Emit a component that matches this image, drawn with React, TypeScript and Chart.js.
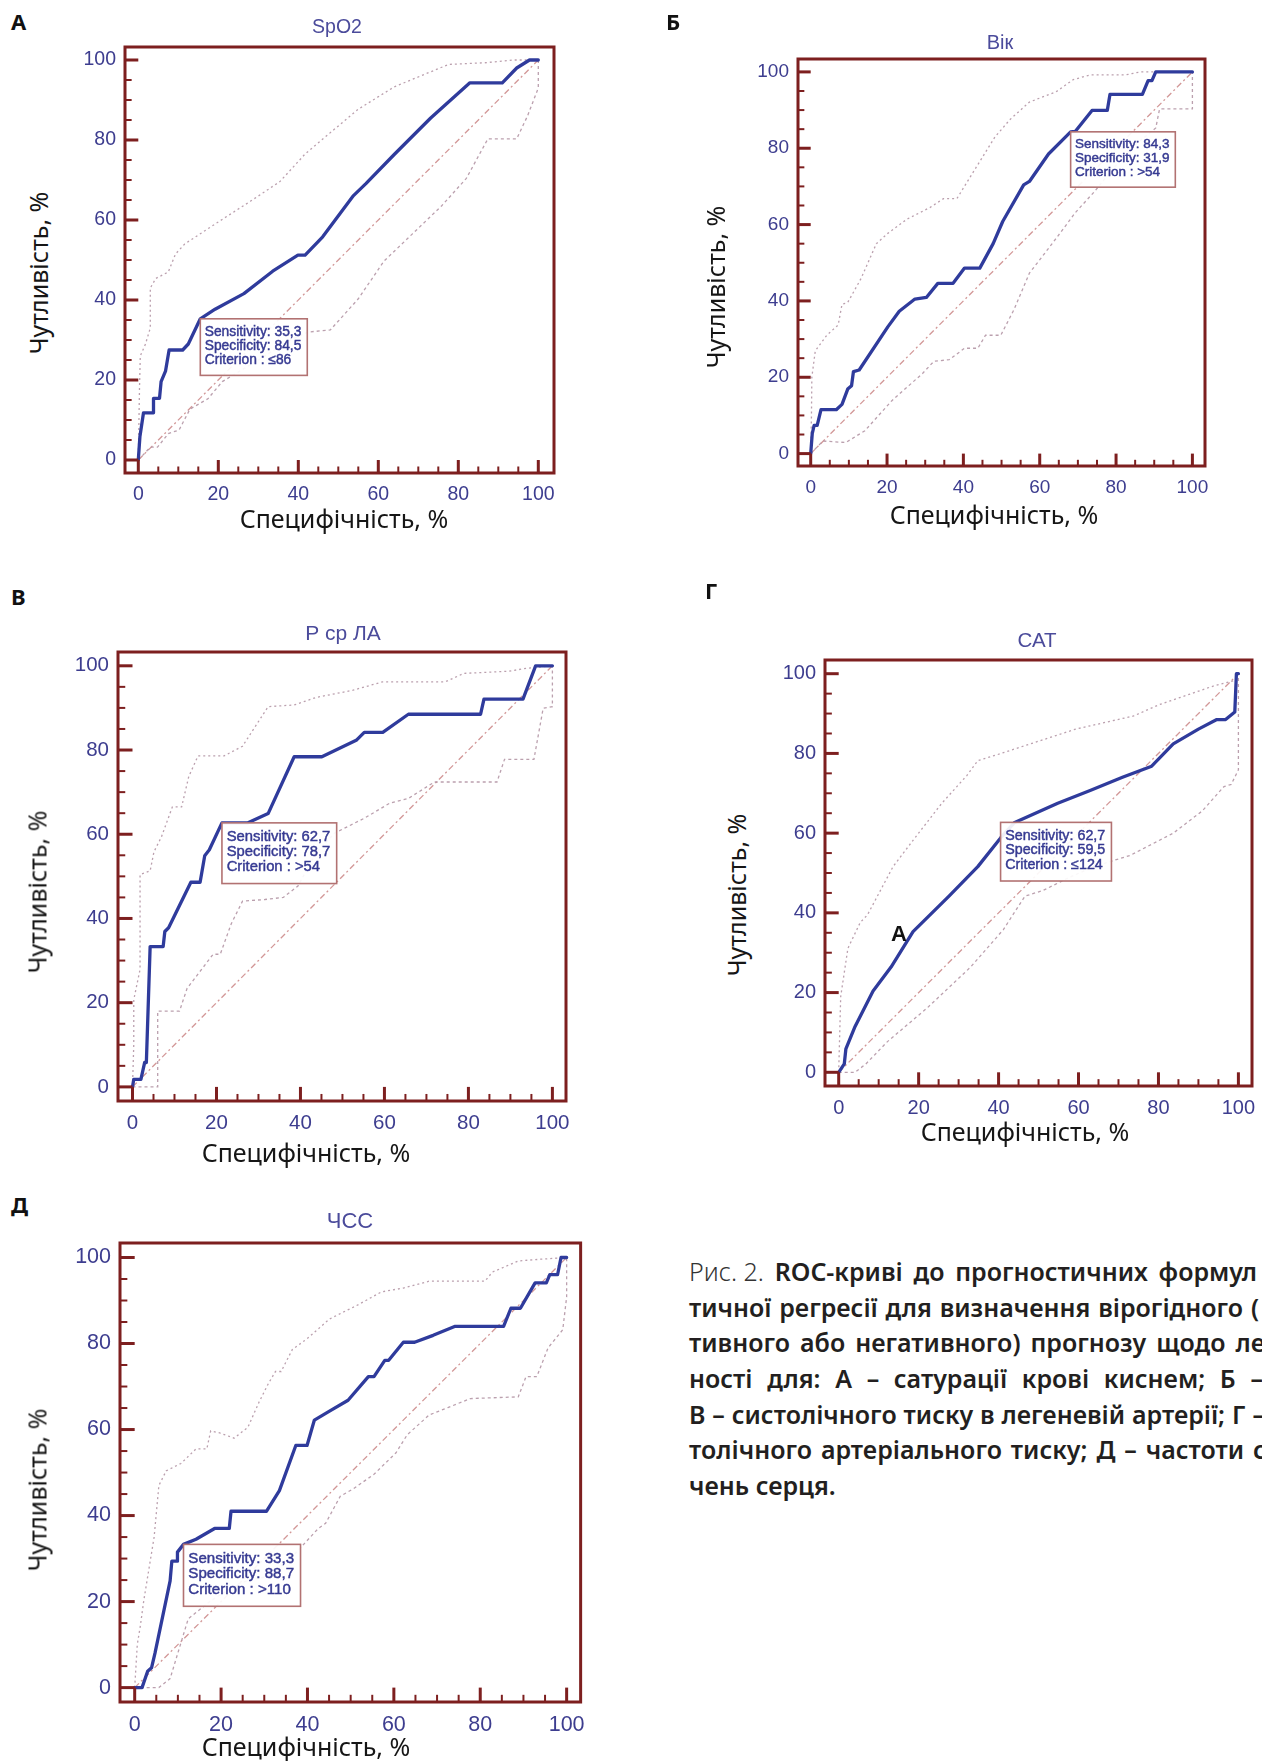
import React, { useEffect, useRef } from "react";
import { Chart, registerables } from "chart.js";

Chart.register(...registerables);

type Pt = [number, number];

// ---------- shared ----------
const tickValues = [0, 20, 40, 60, 80, 100];
const diagonal: Pt[] = [[0, 0], [100, 100]];
const xAxisTitle = "Специфічність, %";
const yAxisTitle = "Чутливість, %";

// ---------- А: SpO2 ----------
const spo2Roc: Pt[] = [[0,0],[0.4,5.8],[1.3,11.8],[3.8,11.8],[3.8,15.4],[5.3,15.4],[5.7,19.6],[6.8,22.2],[7.7,27.5],[11.1,27.5],[12.5,29],[15.5,35.3],[19.2,37.7],[26.4,41.6],[33.6,47.2],[39.9,51.2],[41.7,51.2],[46.1,55.8],[53.8,66.1],[56.9,69.1],[64.1,76.5],[73.1,85.5],[82.9,94.3],[91,94.3],[94.6,98],[97.8,100],[100,100]];
const spo2Upper: Pt[] = [[0,0],[0.3,18],[0.5,26],[1.8,29],[3,33],[3,43],[4.4,45.4],[7.5,47],[9.3,51.5],[11.6,54],[19.2,59],[28.2,64.8],[35.4,69.6],[41.7,76.5],[48.8,82.5],[55,87.7],[64,93.3],[77.6,98.9],[86.5,99.3],[93.7,100],[100,100]];
const spo2Lower: Pt[] = [[0,0],[3,3.2],[4.8,3.2],[7.5,6.6],[10.2,7.5],[12.9,12.7],[17.4,15.3],[21,19.6],[30,25],[38,30],[42.5,32],[48,32.5],[55,40.3],[61.4,49.7],[68.6,56.6],[75.8,63.5],[82,70.4],[87.4,80.3],[94.6,80.3],[97.3,86],[100,93],[100,100]];
const spo2Criterion = { sensitivity: 35.3, specificity: 84.5, criterion: "≤86" };

// ---------- Б: Вік ----------
const ageRoc: Pt[] = [[0,0],[0.4,5.2],[0.9,7.4],[1.7,7.4],[2.7,11.5],[6.7,11.5],[8.2,12.9],[9.7,16.9],[10.7,17.8],[11.2,21.5],[12.7,21.9],[20.2,33.2],[23.2,37.3],[27.3,40.5],[30.3,40.9],[33.3,44.6],[37.3,44.6],[40.3,48.6],[44.3,48.6],[47.8,55],[50.3,60.8],[55.8,70.4],[57.3,71.3],[62.3,78.5],[68.1,84.3],[69.3,84.4],[73.7,89.9],[77.7,89.9],[78.4,94.1],[86.9,94.1],[88.4,97.7],[89.4,97.7],[90.4,100],[100,100]];
const ageUpper: Pt[] = [[0,0],[0.2,10],[0.3,20],[1.2,26.9],[4.2,31],[7.2,33.7],[8.2,39.1],[9.7,39.6],[13.2,45.9],[17.2,55],[20.2,57.7],[25.2,61.4],[31.3,64.5],[34.8,66.8],[38.3,66.8],[43.3,74.9],[48.3,83],[52.3,87.6],[57.3,92.1],[64.3,94.8],[68.8,98],[73.3,99.2],[82.4,99.2],[86.3,100],[100,100]];
const ageLower: Pt[] = [[0,0],[3.2,3.3],[9.2,2.9],[14.2,6],[21.2,13.8],[29.3,21],[32.3,24.2],[36.3,24.6],[40.3,27.6],[43.8,27.6],[45.8,31],[49.8,31],[53.3,37.8],[57.3,47.3],[59.8,50.5],[65.3,57.7],[69.3,63.1],[74.3,68.6],[79.4,74.9],[84.4,80.4],[90.4,85.3],[91.4,90.3],[100,90.3],[100,100]];
const ageCriterion = { sensitivity: 84.3, specificity: 31.9, criterion: ">54" };

// ---------- В: Р ср ЛА ----------
const paRoc: Pt[] = [[0,0],[0.3,1.8],[2,1.8],[2.9,5.8],[3.3,5.8],[4.2,33.3],[7.3,33.3],[7.7,36.9],[8.6,37.8],[13.9,48.6],[16.1,48.6],[17.2,54.9],[18.3,56.3],[21.3,62.7],[27.5,62.7],[32.3,64.9],[38.5,78.4],[45.1,78.4],[53.4,82.4],[55.2,84.2],[59.6,84.2],[65.7,88.5],[82.9,88.5],[83.7,92.1],[93,92.1],[96,100],[100,100]];
const paUpper: Pt[] = [[0,0],[0.3,10],[0.3,20.7],[1.8,27.9],[1.8,50.4],[4.2,51.3],[5.1,55.8],[6.9,59.4],[9.5,66.5],[11.7,66.5],[13.4,73.7],[15.6,78.6],[21.8,78.6],[26.2,80.9],[29.7,86.3],[32.3,90.3],[38.5,90.7],[43.8,92.5],[52.5,94.2],[59.6,96.2],[74.5,96.2],[78.9,98.2],[89.5,98.7],[93.8,99.4],[100,100]];
const paLower: Pt[] = [[0,0],[6,0],[6,18],[11.2,18],[13,23.4],[19.2,31.5],[20.9,31.5],[23.5,38.7],[26.2,44.1],[31.5,44.5],[35.9,45],[39.4,47.7],[43.8,55.8],[48.2,60.3],[55.2,63.8],[61.3,67.4],[65.7,68.5],[71.9,72.4],[86.8,72.4],[88.6,77.8],[95.6,77.8],[97.8,89.9],[100,90.3],[100,100]];
const paCriterion = { sensitivity: 62.7, specificity: 78.7, criterion: ">54" };

// ---------- Г: САТ ----------
const sbpRoc: Pt[] = [[0,0],[1.4,2.1],[1.8,5.9],[4.1,11.5],[8.6,20.4],[13.1,26.4],[18.6,35.3],[27.6,44.2],[34.8,51.6],[40.5,58.8],[43.9,62.6],[54.8,67.5],[62.9,70.7],[71,74],[78.3,76.8],[83.7,82.4],[90,86.1],[94.6,88.5],[96.8,88.5],[99.1,90.4],[99.5,100],[100,100]];
const sbpUpper: Pt[] = [[0,0],[0.5,19],[2.3,31.1],[5.4,37.6],[7.2,39.5],[13.6,51.6],[18.6,58.2],[25.8,67.5],[32.1,74.5],[34.8,78.2],[39.4,79.6],[59.3,86.1],[73.8,89.4],[80.1,92.2],[93.7,96.9],[99.1,98.3],[100,100]];
const sbpLower: Pt[] = [[0,0],[4.1,0],[6.8,2.1],[12.2,7.7],[22.2,16.2],[33,26.4],[41.2,35.8],[46.6,44.2],[51.1,45.6],[57.5,48.8],[63.8,51.6],[72.9,54.4],[78.3,57.2],[83.7,60],[91,65.6],[96.4,71.7],[98.2,72.2],[100,75.9],[100,100]];
const sbpCriterion = { sensitivity: 62.7, specificity: 59.5, criterion: "≤124" };

// ---------- Д: ЧСС ----------
const hrRoc: Pt[] = [[0,0],[1.7,0],[3,3.8],[3.9,4.6],[4.7,8],[8.2,24.8],[8.6,29.4],[9.9,29.4],[9.9,31.5],[11.3,33.3],[14.2,34.5],[18.5,37],[21.9,37],[22.3,41],[30.5,41],[33.5,45.8],[37.3,56.3],[39.9,56.3],[41.6,62.2],[45.1,64.3],[49.4,66.8],[54.1,72.3],[55.4,72.3],[57.9,76.1],[58.8,76.1],[62.2,80.3],[64.8,80.3],[69.1,81.9],[74.2,84],[85.4,84],[87.1,88.2],[89.3,88.2],[92.7,94.1],[95.3,94.1],[96.1,96],[97.9,96],[98.7,100],[100,100]];
const hrUpper: Pt[] = [[0,0],[0.6,10],[1.3,14.3],[2.1,20.2],[4.5,35],[5.6,47],[7.3,50.4],[10.7,52.1],[14.2,55.5],[16.7,55.5],[17.6,59.7],[19.7,59.2],[23,58],[26.2,60.5],[28.8,66.4],[30.9,70.6],[32.6,73.5],[33.9,73.5],[36.5,78.6],[39.9,81.1],[45.1,85.7],[51.9,89.1],[57.1,92],[62.2,92.9],[68.2,94.5],[81.1,94.5],[82.8,96.6],[88.8,99.2],[94,99.6],[100,100]];
const hrLower: Pt[] = [[0,0],[5.6,0],[8.2,2.1],[12.4,16],[17.6,20.2],[24.5,24.4],[31.3,26],[37,31],[42.5,37],[44.2,38.2],[47.6,44.5],[50.6,46.2],[55.4,49.6],[60.5,54.6],[63.1,58.8],[68.2,63.4],[72.5,65.1],[77.7,67.2],[88.8,67.6],[90.6,72.3],[93.1,72.3],[95.7,79],[99.1,83.2],[100,90.8],[100,100]];
const hrCriterion = { sensitivity: 33.3, specificity: 88.7, criterion: ">110" };

// ---------- caption ----------
const captionLines: string[][] = [
  ["Рис. 2.", "ROC-криві", "до", "прогностичних", "формул"],
  ["тичної", "регресії", "для", "визначення", "вірогідного", "("],
  ["тивного", "або", "негативного)", "прогнозу", "щодо", "ле"],
  ["ності", "для:", "А", "–", "сатурації", "крові", "киснем;", "Б", "–"],
  ["В", "–", "систолічного", "тиску", "в", "легеневій", "артерії;", "Г", "–"],
  ["толічного", "артеріального", "тиску;", "Д", "–", "частоти", "с"],
  ["чень серця."],
];

// ---------- styles ----------
const FONT_CHART = '"Liberation Sans", Arial, Helvetica, sans-serif';
const FONT_TEXT = '"Noto Sans", "Open Sans", "DejaVu Sans", sans-serif';
const FRAME = "#7d1f1f";
const ROC_COLOR = "#2f3b9c";
const TICK_COLOR = "#3d3d8f";
const TITLE_COLOR = "#4b4b9b";
const CI_COLOR = "rgba(180,150,165,0.9)";
const DIAG_COLOR = "rgba(205,140,140,0.9)";
const NOTE_BORDER = "#b27272";
const NOTE_TEXT = "#363a92";

type Layout = {
  x0: number; x100: number; y100: number; y0: number; padRight?: number;
  tickFont: number; titleFont: number; noteFont: number;
  title: Pt; yTitle: Pt; xTitle: Pt; letter: Pt; marker?: Pt;
};

type Panel = {
  letter: string; title: string;
  roc: Pt[]; upper: Pt[]; lower: Pt[];
  crit: { sensitivity: number; specificity: number; criterion: string };
  lay: Layout;
};

const panels: Panel[] = [
  { letter: "А", title: "SpO2", roc: spo2Roc, upper: spo2Upper, lower: spo2Lower, crit: spo2Criterion,
    lay: { x0: 138.3, x100: 538.3, y100: 60, y0: 460, padRight: 3.9, tickFont: 19.5, titleFont: 19.5, noteFont: 13.8,
      title: [337, 27], yTitle: [38, 273], xTitle: [344, 518], letter: [11, 14] } },
  { letter: "Б", title: "Вік", roc: ageRoc, upper: ageUpper, lower: ageLower, crit: ageCriterion,
    lay: { x0: 810.7, x100: 1192.4, y100: 71.9, y0: 453.6, tickFont: 19, titleFont: 20, noteFont: 13.5,
      title: [1000, 41.5], yTitle: [715, 287], xTitle: [994, 514], letter: [666, 14] } },
  { letter: "В", title: "Р ср ЛА", roc: paRoc, upper: paUpper, lower: paLower, crit: paCriterion,
    lay: { x0: 132.5, x100: 552.4, y100: 665.8, y0: 1086.9, tickFont: 20.5, titleFont: 21, noteFont: 14.8,
      title: [343, 632], yTitle: [37, 892], xTitle: [306, 1151.5], letter: [11, 589] } },
  { letter: "Г", title: "САТ", roc: sbpRoc, upper: sbpUpper, lower: sbpLower, crit: sbpCriterion,
    lay: { x0: 838.7, x100: 1238.4, y100: 673.7, y0: 1072.3, tickFont: 20, titleFont: 20.5, noteFont: 14.3,
      title: [1037, 639.5], yTitle: [736, 895], xTitle: [1025, 1131], letter: [705, 583], marker: [899, 933.5] } },
  { letter: "Д", title: "ЧСС", roc: hrRoc, upper: hrUpper, lower: hrLower, crit: hrCriterion,
    lay: { x0: 134.7, x100: 567, y100: 1257.5, y0: 1687.6, tickFont: 21.5, titleFont: 22, noteFont: 15.1,
      title: [350, 1221], yTitle: [37, 1490], xTitle: [306, 1746], letter: [11, 1197] } },
];

const PAD_UNITS = 3.35;

function geometry(l: Layout) {
  const pxX = (l.x100 - l.x0) / 100;
  const pxY = (l.y0 - l.y100) / 100;
  const aL = Math.round(l.x0 - PAD_UNITS * pxX);
  const aR = Math.round(l.x100 + (l.padRight ?? PAD_UNITS) * pxX);
  const aT = Math.round(l.y100 - PAD_UNITS * pxY);
  const aB = Math.round(l.y0 + PAD_UNITS * pxY);
  const padL = 70, padT = 30, padR = 14, padB = 50;
  return {
    left: aL - padL, top: aT - padT,
    W: aR - aL + padL + padR, H: aB - aT + padT + padB,
    xmin: -(l.x0 - aL) / pxX, xmax: 100 + (aR - l.x100) / pxX,
    ymin: -(aB - l.y0) / pxY, ymax: 100 + (l.y100 - aT) / pxY,
    padL, padT, padR, padB,
  };
}

const toXY = (pts: Pt[]) => pts.map(([x, y]) => ({ x, y }));
const fmt = (v: number) => v.toFixed(1).replace(".", ",");

function RocChart({ p }: { p: Panel }) {
  const ref = useRef<HTMLCanvasElement>(null);
  const g = geometry(p.lay);

  useEffect(() => {
    const l = p.lay;
    const deco = {
      id: "deco",
      afterDatasetsDraw(chart: any) {
        const ctx = chart.ctx;
        const xs = chart.scales.x, ys = chart.scales.y;
        const f = l.noteFont;
        const ax = xs.getPixelForValue(100 - p.crit.specificity);
        const ay = ys.getPixelForValue(p.crit.sensitivity);
        const lines = [
          `Sensitivity: ${fmt(p.crit.sensitivity)}`,
          `Specificity: ${fmt(p.crit.specificity)}`,
          `Criterion : ${p.crit.criterion}`,
        ];
        ctx.save();
        ctx.font = `${f}px ${FONT_CHART}`;
        const w = Math.max(...lines.map((s) => ctx.measureText(s).width)) + 0.75 * f;
        const h = 4.1 * f;
        ctx.fillStyle = "rgba(255,255,255,0.92)";
        ctx.fillRect(ax, ay, w, h);
        ctx.strokeStyle = NOTE_BORDER;
        ctx.lineWidth = 1.6;
        ctx.strokeRect(ax, ay, w, h);
        ctx.fillStyle = NOTE_TEXT;
        ctx.strokeStyle = NOTE_TEXT;
        ctx.lineWidth = 0.45;
        ctx.textBaseline = "middle";
        ctx.textAlign = "left";
        lines.forEach((s, i) => {
          const tx = ax + 0.32 * f, ty = ay + 0.95 * f + i * 1.02 * f;
          ctx.fillText(s, tx, ty);
          ctx.strokeText(s, tx, ty);
        });
        ctx.restore();
      },
      afterDraw(chart: any) {
        const ctx = chart.ctx;
        const xs = chart.scales.x, ys = chart.scales.y;
        const { left, right, top, bottom } = chart.chartArea;
        ctx.save();
        ctx.strokeStyle = FRAME;
        const majorX = xs.getPixelForValue(0) - left;
        const majorY = bottom - ys.getPixelForValue(0);
        for (let v = 0; v <= 100; v += 5) {
          const major = v % 20 === 0;
          ctx.lineWidth = major ? 3 : 2;
          const py = ys.getPixelForValue(v);
          ctx.beginPath();
          ctx.moveTo(left, py);
          ctx.lineTo(left + (major ? majorX : majorX * 0.5), py);
          ctx.stroke();
          const px = xs.getPixelForValue(v);
          ctx.beginPath();
          ctx.moveTo(px, bottom);
          ctx.lineTo(px, bottom - (major ? majorY : majorY * 0.5));
          ctx.stroke();
        }
        ctx.lineWidth = 3;
        ctx.strokeRect(left, top, right - left, bottom - top);
        ctx.restore();
      },
    };

    const lineDs = (pts: Pt[], color: string, width: number, dash: number[]) => ({
      data: toXY(pts), borderColor: color, borderWidth: width, borderDash: dash,
      pointRadius: 0, tension: 0, fill: false,
    });

    const chart = new Chart(ref.current as HTMLCanvasElement, {
      type: "line",
      data: {
        datasets: [
          { ...lineDs(p.roc, ROC_COLOR, 3.3, []), borderJoinStyle: "round", borderCapStyle: "round" } as any,
          lineDs(p.upper, CI_COLOR, 1.3, [2, 3]),
          lineDs(p.lower, CI_COLOR, 1.3, [3, 3]),
          lineDs(diagonal, DIAG_COLOR, 1.3, [6, 3, 2, 3]),
        ],
      },
      options: {
        responsive: false,
        animation: false,
        devicePixelRatio: 1,
        events: [],
        layout: { padding: { left: 0, top: g.padT, right: g.padR, bottom: 0 } },
        plugins: { legend: { display: false }, tooltip: { enabled: false }, title: { display: false } },
        scales: {
          x: {
            type: "linear", min: g.xmin, max: g.xmax,
            afterBuildTicks: (s: any) => { s.ticks = tickValues.map((v) => ({ value: v })); },
            afterFit: (s: any) => { s.height = g.padB; },
            grid: { display: false, drawTicks: false },
            border: { display: false },
            ticks: { color: TICK_COLOR, font: { family: FONT_CHART, size: l.tickFont }, padding: 10,
              maxRotation: 0, autoSkip: false, callback: (v: any) => String(v) },
          },
          y: {
            type: "linear", min: g.ymin, max: g.ymax,
            afterBuildTicks: (s: any) => { s.ticks = tickValues.map((v) => ({ value: v })); },
            afterFit: (s: any) => { s.width = g.padL; },
            grid: { display: false, drawTicks: false },
            border: { display: false },
            ticks: { color: TICK_COLOR, font: { family: FONT_CHART, size: l.tickFont }, padding: 9,
              autoSkip: false, callback: (v: any) => String(v) },
          },
        },
      } as any,
      plugins: [deco],
    });
    return () => chart.destroy();
  }, []);

  return (
    <canvas
      ref={ref}
      width={g.W}
      height={g.H}
      style={{ position: "absolute", left: g.left, top: g.top, width: g.W, height: g.H }}
    />
  );
}

const centered = (x: number, y: number, extra: React.CSSProperties): React.CSSProperties => ({
  position: "absolute", left: x, top: y, transform: "translate(-50%,-50%)",
  whiteSpace: "nowrap", lineHeight: 1, ...extra,
});

function PanelTexts({ p }: { p: Panel }) {
  const l = p.lay;
  return (
    <>
      <div style={{ position: "absolute", left: l.letter[0], top: l.letter[1] - 4, fontFamily: FONT_TEXT,
        fontWeight: 700, fontSize: 22, lineHeight: 1, color: "#111" }}>{p.letter}</div>
      <div style={centered(l.title[0], l.title[1], { fontFamily: FONT_CHART, fontSize: l.titleFont, color: TITLE_COLOR })}>{p.title}</div>
      <div style={centered(l.xTitle[0], l.xTitle[1], { fontFamily: FONT_TEXT, fontSize: 25, color: "#161616" })}>{xAxisTitle}</div>
      <div style={{ ...centered(l.yTitle[0], l.yTitle[1], { fontFamily: FONT_TEXT, fontSize: 25, color: "#161616" }),
        transform: "translate(-50%,-50%) rotate(-90deg)" }}>{yAxisTitle}</div>
      {l.marker && (
        <div style={centered(l.marker[0], l.marker[1], { fontFamily: FONT_CHART, fontWeight: 700, fontSize: 22, color: "#111" })}>А</div>
      )}
    </>
  );
}

const captionRight = [1257, 1259, 1265, 1263, 1265, 1266];

function Caption() {
  const left = 689;
  const top = 1254;
  const lh = 35.7;
  return (
    <div style={{ position: "absolute", left, top, fontFamily: FONT_TEXT, fontSize: 25, fontWeight: 600, color: "#231f20" }}>
      {captionLines.map((words, i) => {
        const isLast = i === captionLines.length - 1;
        return (
          <div key={i} style={{
            display: "flex", justifyContent: isLast ? "flex-start" : "space-between",
            width: isLast ? 560 : captionRight[i] - left, height: lh, lineHeight: `${lh}px`, whiteSpace: "nowrap",
          }}>
            {words.map((w, j) => (
              <span key={j} style={{ flexShrink: 0, ...(i === 0 && j === 0 ? { fontWeight: 300, color: "#333" } : {}) }}>{w}</span>
            ))}
          </div>
        );
      })}
    </div>
  );
}

export default function App() {
  return (
    <div style={{ position: "fixed", left: 0, top: 0, width: 1262, height: 1761, overflow: "hidden", background: "#fff" }}>
      {panels.map((p, i) => <RocChart key={i} p={p} />)}
      {panels.map((p, i) => <PanelTexts key={"t" + i} p={p} />)}
      <Caption />
    </div>
  );
}
